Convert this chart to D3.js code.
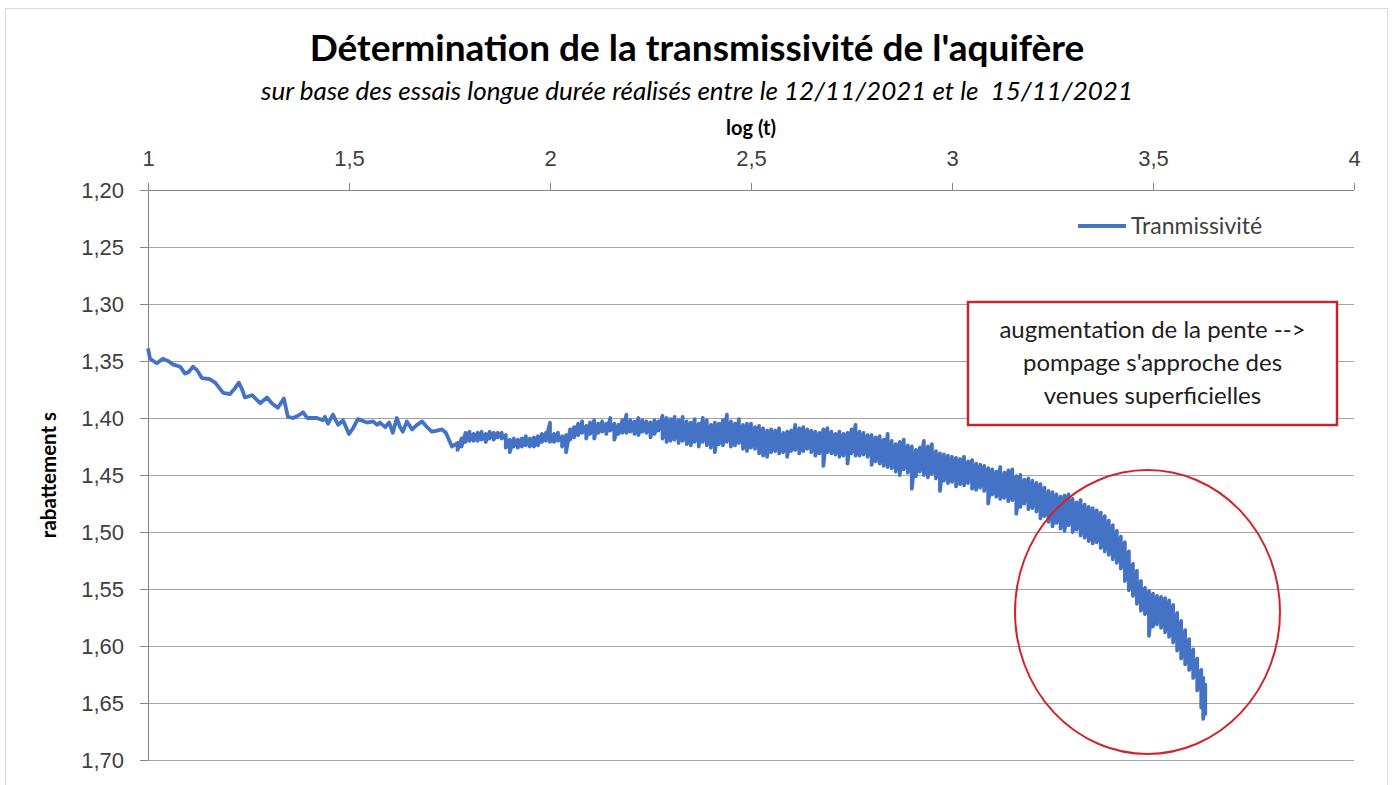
<!DOCTYPE html>
<html>
<head>
<meta charset="utf-8">
<script src="https://cdn.jsdelivr.net/npm/d3@7"></script>
<style>
  body { margin: 0; background: #fff; }
  svg { font-family: Lato, "Open Sans", sans-serif; }
  .grid line { stroke: #a6a6a6; stroke-width: 1; }
  .axis path, .axis line { stroke: #868686; }
  .axis text { font-size: 22px; fill: #404040; }
</style>
</head>
<body>
<script>
// log(t) ticks and rabattement ticks
var xTicks = [1, 1.5, 2, 2.5, 3, 3.5, 4];
var yTicks = [1.20, 1.25, 1.30, 1.35, 1.40, 1.45, 1.50, 1.55, 1.60, 1.65, 1.70];
var seriesName = "Tranmissivité";

// [log(t), s] (sparse start)
var debut = [[1.000,1.339],[1.005,1.348],[1.022,1.352],[1.037,1.348],[1.050,1.350],[1.062,1.353],[1.080,1.355],[1.092,1.361],[1.100,1.360],[1.112,1.355],[1.122,1.358],[1.134,1.365],[1.154,1.366],[1.167,1.369],[1.187,1.378],[1.204,1.379],[1.216,1.374],[1.226,1.369],[1.234,1.375],[1.241,1.382],[1.259,1.380],[1.279,1.387],[1.296,1.382],[1.308,1.387],[1.323,1.391],[1.338,1.383],[1.348,1.399],[1.361,1.400],[1.373,1.398],[1.386,1.395],[1.396,1.400],[1.420,1.400],[1.435,1.402],[1.440,1.399],[1.448,1.405],[1.460,1.397],[1.473,1.406],[1.485,1.402],[1.500,1.414],[1.510,1.409],[1.522,1.401],[1.545,1.404],[1.560,1.403],[1.570,1.406],[1.577,1.404],[1.590,1.408],[1.600,1.404],[1.609,1.413],[1.619,1.400],[1.627,1.408],[1.634,1.412],[1.644,1.403],[1.657,1.410],[1.669,1.406],[1.682,1.403],[1.694,1.408],[1.706,1.412],[1.719,1.411],[1.731,1.410],[1.741,1.413],[1.756,1.425]];

// noisy part: [log(t), s haut, s bas] = spread of the noise at each step
var palier = [[1.77,1.422,1.428],[1.78,1.418,1.425],[1.79,1.413,1.421],[1.80,1.412,1.420],[1.81,1.414,1.420],[1.82,1.413,1.420],[1.83,1.412,1.419],[1.84,1.414,1.421],[1.85,1.412,1.418],[1.86,1.413,1.419],
  [1.87,1.413,1.417],[1.88,1.413,1.418],[1.89,1.415,1.426],[1.90,1.419,1.430],[1.91,1.418,1.425],[1.92,1.419,1.426],[1.93,1.418,1.425],[1.94,1.416,1.424],[1.95,1.418,1.425],[1.96,1.417,1.425],
  [1.97,1.416,1.424],[1.98,1.414,1.421],[1.99,1.413,1.420],[2.00,1.404,1.421],[2.01,1.414,1.421],[2.02,1.413,1.420],[2.03,1.416,1.425],[2.04,1.415,1.430],[2.05,1.410,1.419],[2.06,1.408,1.417],
  [2.07,1.405,1.415],[2.08,1.403,1.413],[2.09,1.407,1.418],[2.10,1.404,1.414],[2.11,1.402,1.418],[2.12,1.405,1.413],[2.13,1.403,1.412],[2.14,1.405,1.414],[2.15,1.400,1.411],[2.16,1.405,1.419],
  [2.17,1.406,1.414],[2.18,1.402,1.413],[2.19,1.397,1.413],[2.20,1.402,1.412],[2.21,1.403,1.414],[2.22,1.400,1.415],[2.23,1.402,1.412],[2.24,1.403,1.413],[2.25,1.404,1.417],[2.26,1.402,1.414],[2.27,1.403,1.411]];

var milieu = [[2.28,1.398,1.418],[2.29,1.400,1.421],[2.30,1.401,1.420],[2.31,1.399,1.419],[2.32,1.402,1.422],[2.33,1.399,1.420],[2.34,1.403,1.423],[2.35,1.404,1.424],[2.36,1.401,1.421],[2.37,1.405,1.425],[2.38,1.400,1.421],[2.39,1.402,1.424],
  [2.40,1.406,1.426],[2.41,1.404,1.430],[2.42,1.405,1.423],[2.43,1.402,1.424],[2.44,1.397,1.421],[2.45,1.403,1.425],[2.46,1.405,1.424],[2.47,1.401,1.422],[2.48,1.406,1.427],[2.49,1.405,1.429],
  [2.50,1.405,1.426],[2.51,1.408,1.427],[2.52,1.407,1.431],[2.53,1.409,1.433],[2.54,1.411,1.434],[2.55,1.410,1.430],[2.56,1.411,1.429],[2.57,1.409,1.431],[2.58,1.413,1.430],[2.59,1.412,1.434],
  [2.60,1.411,1.429],[2.61,1.406,1.428],[2.62,1.409,1.431],[2.63,1.408,1.429],[2.64,1.410,1.427],[2.65,1.411,1.430],[2.66,1.412,1.433],[2.67,1.413,1.431],[2.68,1.410,1.442],[2.69,1.409,1.430],
  [2.70,1.412,1.431],[2.71,1.414,1.432],[2.72,1.412,1.434],[2.73,1.414,1.433],[2.74,1.413,1.440],[2.75,1.410,1.431],[2.76,1.406,1.433],[2.77,1.412,1.433],[2.78,1.413,1.432],[2.79,1.415,1.434]];

var descente = [[2.80,1.415,1.441],[2.81,1.417,1.438],[2.82,1.416,1.440],[2.83,1.419,1.442],[2.84,1.414,1.443],[2.85,1.420,1.444],[2.86,1.423,1.447],[2.87,1.421,1.450],[2.88,1.419,1.445],[2.89,1.424,1.448],
  [2.90,1.425,1.462],[2.91,1.428,1.451],[2.92,1.426,1.447],[2.93,1.420,1.450],[2.94,1.425,1.452],[2.95,1.423,1.449],[2.96,1.429,1.453],[2.97,1.431,1.464],[2.98,1.432,1.455],[2.99,1.433,1.457],
  [3.00,1.434,1.456],[3.01,1.435,1.460],[3.02,1.436,1.458],[3.03,1.434,1.459],[3.04,1.438,1.457],[3.05,1.437,1.462],[3.06,1.440,1.463],[3.07,1.441,1.461],[3.08,1.442,1.464],[3.09,1.444,1.475],
  [3.10,1.445,1.467],[3.11,1.447,1.469],[3.12,1.443,1.471],[3.13,1.448,1.470],[3.14,1.446,1.473],[3.15,1.445,1.472],[3.16,1.451,1.484],[3.17,1.450,1.478],[3.18,1.454,1.475],[3.19,1.453,1.480],
  [3.20,1.455,1.479],[3.21,1.457,1.482],[3.22,1.458,1.488],[3.23,1.461,1.486],[3.24,1.464,1.491],[3.25,1.465,1.495],[3.26,1.467,1.492],[3.27,1.469,1.497],[3.28,1.468,1.499],[3.29,1.467,1.494]];

var fin = [[3.30,1.471,1.500],[3.31,1.474,1.498],[3.32,1.472,1.503],[3.33,1.476,1.505],[3.34,1.478,1.508],[3.35,1.479,1.510],[3.36,1.481,1.509],[3.37,1.483,1.514],[3.38,1.486,1.517],[3.39,1.490,1.520],
  [3.40,1.494,1.524],[3.41,1.499,1.527],[3.42,1.504,1.532],[3.43,1.509,1.543],[3.44,1.517,1.551],[3.45,1.528,1.556],[3.46,1.534,1.563],[3.47,1.543,1.569],[3.48,1.549,1.572],[3.49,1.552,1.591],
  [3.50,1.554,1.583],[3.51,1.556,1.581],[3.52,1.557,1.584],[3.53,1.558,1.588],[3.54,1.560,1.592],[3.55,1.564,1.597],[3.56,1.571,1.604],[3.57,1.578,1.611],[3.58,1.586,1.616],[3.59,1.594,1.621],
  [3.60,1.603,1.628],[3.61,1.611,1.639],[3.62,1.621,1.654],[3.625,1.628,1.664],[3.63,1.634,1.661]];

// one point per reading, two (top then bottom) where the noise spread was read
var data = [];
debut.forEach(function(d){ data.push([d[0], d[1]]); });
palier.concat(milieu, descente, fin).forEach(function(d){
  data.push([d[0], d[1]]);
  data.push([d[0], d[2]]);
});

var W = 1400, H = 785;
var margin = {left: 148, right: 46, top: 190, bottom: 25};
var width = W - margin.left - margin.right;
var height = H - margin.top - margin.bottom;

var fr = d3.formatLocale({decimal: ",", thousands: " ", grouping: [3], currency: ["", " €"]});

var x = d3.scaleLinear().domain([1, 4]).range([0, width]);
var y = d3.scaleLinear().domain([1.2, 1.7]).range([0, height]);

var svg = d3.select("body").append("svg")
    .attr("width", W).attr("height", H);

svg.append("rect").attr("width", W).attr("height", H).attr("fill", "#fff");
// chart area border
svg.append("rect")
    .attr("x", 5.5).attr("y", 8.5)
    .attr("width", 1382).attr("height", 800)
    .attr("fill", "none").attr("stroke", "#d9d9d9");

svg.append("text")
    .attr("x", 697).attr("y", 61)
    .attr("text-anchor", "middle")
    .style("font-size", "37px").style("font-weight", "bold").attr("fill", "#000")
    .text("Détermination de la transmissivité de l'aquifère");

svg.append("text")
    .attr("x", 697).attr("y", 100)
    .attr("text-anchor", "middle")
    .style("font-size", "26px").style("font-style", "italic").attr("fill", "#000")
    .style("white-space", "pre")
    .text("sur base des essais longue durée réalisés entre le 12/11/2021 et le  15/11/2021");

var g = svg.append("g")
    .attr("transform", "translate(" + margin.left + "," + margin.top + ")");

g.append("g").attr("class", "grid")
  .selectAll("line").data(yTicks.slice(1)).enter().append("line")
    .attr("x1", 0).attr("x2", width)
    .attr("y1", function(d){ return Math.round(y(d)) + 0.5; })
    .attr("y2", function(d){ return Math.round(y(d)) + 0.5; });

var xAxis = d3.axisTop(x).tickValues(xTicks).tickSize(7).tickPadding(17)
    .tickFormat(fr.format(".1~f"));
var yAxis = d3.axisLeft(y).tickValues(yTicks).tickSize(8).tickPadding(16)
    .tickFormat(fr.format(".2f"));

g.append("g").attr("class", "x axis").call(xAxis)
  .call(function(a){ a.select(".domain").attr("d", "M0.5,0.5H" + width); });
g.append("g").attr("class", "y axis").call(yAxis)
  .call(function(a){ a.select(".domain").attr("d", "M0.5,0.5V" + height); });

g.append("text")
    .attr("x", x(2.5)).attr("y", -55)
    .attr("text-anchor", "middle")
    .style("font-size", "20px").style("font-weight", "bold")
    .text("log (t)");

g.append("text")
    .attr("transform", "rotate(-90)")
    .attr("x", -(y(1.45))).attr("y", -92)
    .attr("text-anchor", "middle")
    .style("font-size", "20.5px").style("font-weight", "bold")
    .text("rabattement s");

var line = d3.line()
    .x(function(d){ return x(d[0]); })
    .y(function(d){ return y(d[1]); });

g.append("path")
    .attr("d", line(data))
    .attr("fill", "none")
    .attr("stroke", "#4472c4")
    .attr("stroke-width", 3.8)
    .attr("stroke-linejoin", "round");

// legend
var leg = svg.append("g").attr("transform", "translate(1078,226)");
leg.append("line").attr("x1", 0).attr("x2", 48)
    .attr("stroke", "#4472c4").attr("stroke-width", 3.8);
leg.append("text").attr("x", 53).attr("dy", "0.35em")
    .style("font-size", "23px").attr("fill", "#404040")
    .text(seriesName);

// annotation
var note = svg.append("g");
note.append("rect")
    .attr("x", 968).attr("y", 302).attr("width", 369).attr("height", 123)
    .attr("fill", "#fff").attr("stroke", "#c0282d").attr("stroke-width", 2.5);
var noteLines = ["augmentation de la pente -->", "pompage s'approche des", "venues superficielles"];
note.selectAll("text.note").data(noteLines).enter().append("text")
    .attr("class", "note")
    .attr("x", 1152.5)
    .attr("y", function(d, i){ return 338 + i * 33; })
    .attr("text-anchor", "middle")
    .style("font-size", "24px").attr("fill", "#202020")
    .text(function(d){ return d; });

svg.append("ellipse")
    .attr("cx", 1147.5).attr("cy", 612).attr("rx", 132.5).attr("ry", 142)
    .attr("fill", "none").attr("stroke", "#d2232a").attr("stroke-width", 2);
</script>
</body>
</html>
